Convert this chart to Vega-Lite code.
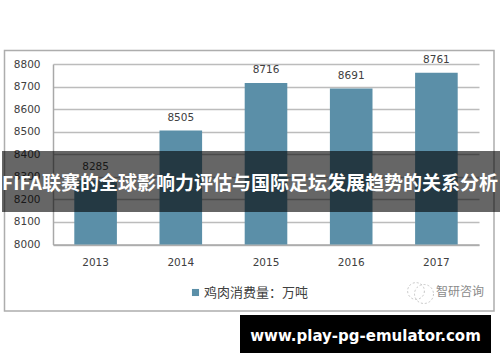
{
"$schema":"https://vega.github.io/schema/vega-lite/v6.json",
"width":426,"height":180.5,
"autosize":{"type":"none"},
"padding":{"left":53,"top":64,"right":21,"bottom":117.5},
"background":"#ffffff",
"config":{"view":{"stroke":null}},
"datasets":{
"bars":[
{"year":"2013","value":8285,"series":"鸡肉消费量：万吨"},
{"year":"2014","value":8505,"series":"鸡肉消费量：万吨"},
{"year":"2015","value":8716,"series":"鸡肉消费量：万吨"},
{"year":"2016","value":8691,"series":"鸡肉消费量：万吨"},
{"year":"2017","value":8761,"series":"鸡肉消费量：万吨"}],
"frame":[{"a":4.5,"b":494,"c":50.5,"d":311}],
"banner":[{"a":2,"b":500,"c":151,"d":212}],
"box":[{"a":240,"b":491,"c":315,"d":353}],
"title":[{"a":250,"c":184,"t":"FIFA联赛的全球影响力评估与国际足坛发展趋势的关系分析"}],
"url":[{"a":365.5,"c":336,"t":"www.play-pg-emulator.com"}],
"mark":[{"a":460,"c":292,"t":"智研咨询"}],
"icon":[{"a":416,"c":291,"s":70},{"a":424,"c":294,"s":90}]
},
"layer":[
{"data":{"name":"frame"},
 "mark":{"type":"rect","fill":null,"stroke":"#adadad","strokeWidth":1.5,"clip":false},
 "encoding":{
  "x":{"field":"a","type":"quantitative","scale":{"domain":[53,479],"nice":false,"zero":false},"axis":null},
  "x2":{"field":"b"},
  "y":{"field":"c","type":"quantitative","scale":{"domain":[244.5,64],"nice":false,"zero":false},"axis":null},
  "y2":{"field":"d"}}},
{"data":{"name":"bars"},
 "mark":{"type":"bar","clip":true},
 "encoding":{
  "x":{"field":"year","type":"nominal","scale":{"paddingInner":0.5,"paddingOuter":0.25},
   "axis":{"title":null,"orient":"bottom","labelAngle":0,"ticks":false,"domain":true,"domainColor":"#a8a8a8","domainWidth":1.5,"labelFont":"DejaVu Sans","labelFontSize":10.5,"labelColor":"#404040","labelPadding":13}},
  "y":{"field":"value","type":"quantitative","scale":{"domain":[8000,8800],"nice":false,"zero":false},
   "axis":{"title":null,"orient":"left","values":[8000,8100,8200,8300,8400,8500,8600,8700,8800],"format":"d","labelOverlap":false,"ticks":false,"domain":true,"domainColor":"#a8a8a8","domainWidth":1.5,"grid":true,"gridColor":"#bcbcbc","gridWidth":1.5,"labelFont":"DejaVu Sans","labelFontSize":10.5,"labelColor":"#404040","labelPadding":13}},
  "color":{"field":"series","type":"nominal","scale":{"range":["#5b8fa8"]},
   "legend":{"title":null,"orient":"none","legendX":136,"legendY":222,"symbolType":"square","symbolSize":50,"labelOffset":2,"labelFont":"Noto Sans CJK SC","labelFontSize":13,"labelColor":"#404040","labelLimit":200}}}},
{"data":{"name":"bars"},
 "mark":{"type":"text","dy":-13,"font":"DejaVu Sans","fontSize":10.5,"color":"#404040"},
 "encoding":{
  "x":{"field":"year","type":"nominal","scale":{"paddingInner":0.5,"paddingOuter":0.25},"axis":null},
  "y":{"field":"value","type":"quantitative","scale":{"domain":[8000,8800],"nice":false,"zero":false},"axis":null},
  "text":{"field":"value","type":"quantitative","format":"d"}}},
{"data":{"name":"banner"},
 "mark":{"type":"rect","fill":"#000000","opacity":0.6,"clip":false},
 "encoding":{
  "x":{"field":"a","type":"quantitative","scale":{"domain":[53,479],"nice":false,"zero":false},"axis":null},
  "x2":{"field":"b"},
  "y":{"field":"c","type":"quantitative","scale":{"domain":[244.5,64],"nice":false,"zero":false},"axis":null},
  "y2":{"field":"d"}}},
{"data":{"name":"box"},
 "mark":{"type":"rect","fill":"#000000","clip":false},
 "encoding":{
  "x":{"field":"a","type":"quantitative","scale":{"domain":[53,479],"nice":false,"zero":false},"axis":null},
  "x2":{"field":"b"},
  "y":{"field":"c","type":"quantitative","scale":{"domain":[244.5,64],"nice":false,"zero":false},"axis":null},
  "y2":{"field":"d"}}},
{"data":{"name":"title"},
 "mark":{"type":"text","font":"Noto Sans CJK SC","fontWeight":"bold","fontSize":19,"color":"#ffffff","align":"center","baseline":"middle"},
 "encoding":{
  "x":{"field":"a","type":"quantitative","scale":{"domain":[53,479],"nice":false,"zero":false},"axis":null},
  "y":{"field":"c","type":"quantitative","scale":{"domain":[244.5,64],"nice":false,"zero":false},"axis":null},
  "text":{"field":"t"}}},
{"data":{"name":"url"},
 "mark":{"type":"text","font":"DejaVu Sans","fontWeight":"bold","fontSize":15,"color":"#ffffff","align":"center","baseline":"middle"},
 "encoding":{
  "x":{"field":"a","type":"quantitative","scale":{"domain":[53,479],"nice":false,"zero":false},"axis":null},
  "y":{"field":"c","type":"quantitative","scale":{"domain":[244.5,64],"nice":false,"zero":false},"axis":null},
  "text":{"field":"t"}}},
{"data":{"name":"mark"},
 "mark":{"type":"text","font":"Noto Sans CJK SC","fontSize":12,"color":"#8a8a8a","align":"center","baseline":"middle"},
 "encoding":{
  "x":{"field":"a","type":"quantitative","scale":{"domain":[53,479],"nice":false,"zero":false},"axis":null},
  "y":{"field":"c","type":"quantitative","scale":{"domain":[244.5,64],"nice":false,"zero":false},"axis":null},
  "text":{"field":"t"}}},
{"data":{"name":"icon"},
 "mark":{"type":"point","filled":false,"stroke":"#b0b0b0","strokeWidth":1,"strokeDash":[2,2],"clip":false},
 "encoding":{
  "x":{"field":"a","type":"quantitative","scale":{"domain":[53,479],"nice":false,"zero":false},"axis":null},
  "y":{"field":"c","type":"quantitative","scale":{"domain":[244.5,64],"nice":false,"zero":false},"axis":null},
  "size":{"field":"s","type":"quantitative","legend":null,"scale":{"type":"identity"}}}}
],
"resolve":{"scale":{"x":"independent","y":"independent"}}
}
